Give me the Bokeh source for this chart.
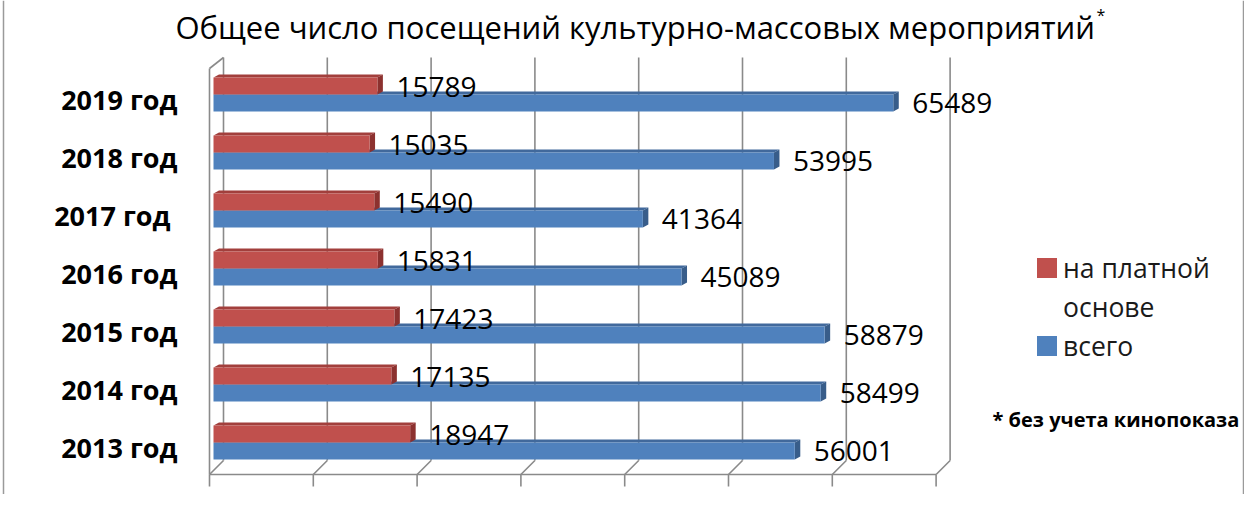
from bokeh.plotting import figure
from bokeh.models import Range1d, ColumnDataSource, Legend, LegendItem
from bokeh.core.properties import value
from bokeh.embed import file_html
from bokeh.resources import INLINE

# ---------------- data ----------------
years = ["2013 год", "2014 год", "2015 год", "2016 год", "2017 год ", "2018 год", "2019 год"]
paid = [18947, 17135, 17423, 15831, 15490, 15035, 15789]
total = [56001, 58499, 58879, 45089, 41364, 53995, 65489]
grid_ticks = [0, 10000, 20000, 30000, 40000, 50000, 60000, 70000]
paid_name_lines = ["на платной", "основе"]
total_name = "всего"
title_text = "Общее число посещений культурно-массовых мероприятий"
note_text = "* без учета кинопоказа"

# ---------------- layout helpers (pixels -> data units) ----------------
W, H = 1244, 494
S = 0.01038          # px per data unit along x
ROW = 58.0           # px per category row
def dx(v): return v / S
def dy(v): return v / ROW
X_START = dx(-213)
X_END = X_START + dx(W)
Y_TOP = 450.5 / ROW
Y_BOT = Y_TOP - H / ROW
def rx(px_x): return dx(px_x - 213)
def ry(px_y): return Y_TOP - px_y / ROW

FONT = value("Open Sans")
GRID_C = "#8a8a8a"

p = figure(width=W, height=H, x_range=Range1d(X_START, X_END), y_range=Range1d(Y_BOT, Y_TOP),
           output_backend="svg", toolbar_location=None, x_axis_location=None, y_axis_location=None,
           min_border=0)
p.grid.visible = False
p.outline_line_color = None
p.background_fill_color = "white"

# ---------------- 3D frame: back gridlines, floor, wall ----------------
back_x = [t + rx(223) for t in grid_ticks]
front_x = [t + rx(209) for t in grid_ticks]
n = len(grid_ticks)
p.segment(x0=back_x, y0=[ry(57)] * n, x1=back_x, y1=[ry(460)] * n, line_color=GRID_C, line_width=1.6)
p.segment(x0=back_x, y0=[ry(460)] * n, x1=front_x, y1=[ry(474)] * n, line_color=GRID_C, line_width=1.6)
p.segment(x0=front_x, y0=[ry(474)] * n, x1=front_x, y1=[ry(486)] * n, line_color=GRID_C, line_width=1.6)
p.segment(x0=[front_x[0]], y0=[ry(474)], x1=[front_x[-1]], y1=[ry(474)], line_color=GRID_C, line_width=1.6)
p.segment(x0=[front_x[0]], y0=[ry(68)], x1=[front_x[0]], y1=[ry(474)], line_color=GRID_C, line_width=1.6)
p.segment(x0=[front_x[0]], y0=[ry(68)], x1=[back_x[0]], y1=[ry(57)], line_color=GRID_C, line_width=1.6)

# chart border
p.segment(x0=[rx(3)], y0=[Y_BOT], x1=[rx(3)], y1=[Y_TOP], line_color="#9a9a9a", line_width=1.5)
p.segment(x0=[rx(1243)], y0=[Y_BOT], x1=[rx(1243)], y1=[Y_TOP], line_color="#9a9a9a", line_width=1.5)

# ---------------- bars ----------------
idx = list(range(len(years)))
BAR_H = dy(17)
DX3 = dx(5.5)
DY3 = dy(3)
blue_y = [float(i) for i in idx]
red_y = [i + BAR_H for i in idx]

def faces(vals, ycs):
    top_xs, top_ys, side_xs, side_ys = [], [], [], []
    for v, yc in zip(vals, ycs):
        yt = yc + BAR_H / 2
        yb = yc - BAR_H / 2
        top_xs.append([0, v, v + DX3, DX3])
        top_ys.append([yt, yt, yt + DY3, yt + DY3])
        side_xs.append([v, v + DX3, v + DX3, v])
        side_ys.append([yt, yt + DY3, yb + DY3, yb])
    return top_xs, top_ys, side_xs, side_ys

bt_x, bt_y, bs_x, bs_y = faces(total, blue_y)
rt_x, rt_y, rs_x, rs_y = faces(paid, red_y)

p.patches(bt_x, bt_y, fill_color="#41699c", line_color=None)
p.patches(bs_x, bs_y, fill_color="#385d8a", line_color=None)
blue_src = ColumnDataSource(dict(y=blue_y, right=total))
blue_r = p.hbar(y="y", left=0, right="right", height=BAR_H, source=blue_src,
                fill_color="#4f81bd", line_color=None)
p.patches(rt_x, rt_y, fill_color="#a23f3c", line_color=None)
p.patches(rs_x, rs_y, fill_color="#8c312f", line_color=None)
red_src = ColumnDataSource(dict(y=red_y, right=paid))
red_r = p.hbar(y="y", left=0, right="right", height=BAR_H, source=red_src,
               fill_color="#c0504d", line_color=None)
# invisible renderer for the second line of the legend label
blank_r = p.hbar(y=[], left=[], right=[], height=BAR_H, fill_alpha=0, line_alpha=0)

# ---------------- value labels ----------------
p.text(x=[v + dx(19) for v in paid], y=[y - dy(1) for y in red_y], text=[str(v) for v in paid],
       text_font=FONT, text_font_size="28px", text_color="black", text_baseline="middle", text_align="left")
p.text(x=[v + dx(19) for v in total], y=blue_y, text=[str(v) for v in total],
       text_font=FONT, text_font_size="28px", text_color="black", text_baseline="middle", text_align="left")

# ---------------- category labels ----------------
p.text(x=[rx(177)] * len(years), y=[y + dy(3.5) for y in blue_y], text=years,
       text_font=FONT, text_font_size="27px", text_font_style="bold", text_color="black",
       text_baseline="middle", text_align="right")

# ---------------- title & note ----------------
p.text(x=[rx(175)], y=[ry(26)], text=[title_text], text_font=FONT, text_font_size="31px",
       text_color="black", text_baseline="alphabetic", text_align="left")
p.text(x=[rx(1096)], y=[ry(14)], text=["*"], text_font=FONT, text_font_size="16px",
       text_color="black", text_baseline="alphabetic", text_align="left")
p.text(x=[rx(992)], y=[ry(419)], text=[note_text], text_font=FONT, text_font_size="20px",
       text_font_style="bold", text_color="black", text_baseline="alphabetic", text_align="left")

# ---------------- legend ----------------
legend = Legend(items=[LegendItem(label=paid_name_lines[0], renderers=[red_r]),
                       LegendItem(label=paid_name_lines[1], renderers=[blank_r]),
                       LegendItem(label=total_name, renderers=[blue_r])],
                location=(1034, 129), padding=0, margin=0, spacing=0,
                border_line_color=None, background_fill_alpha=0,
                glyph_width=25, glyph_height=25, label_standoff=4, label_height=39,
                label_text_font="Open Sans", label_text_font_size="26.5px",
                label_text_color="#1a1a1a")
p.add_layout(legend)

open("out.html", "w").write(file_html(p, INLINE))
